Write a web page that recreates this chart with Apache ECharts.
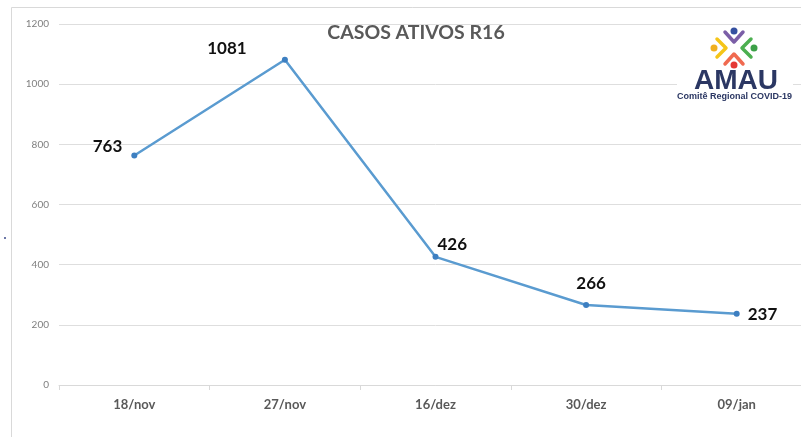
<!DOCTYPE html>
<html><head><meta charset="utf-8">
<script src="https://cdn.jsdelivr.net/npm/echarts@6/dist/echarts.min.js"></script>
<style>html,body{margin:0;padding:0;background:#fff;overflow:hidden;width:801px;height:437px}#c{width:812px;height:437px}</style>
</head><body><div id="c"></div>
<script>
const categories = ['18/nov','27/nov','16/dez','30/dez','09/jan'];
const values = [763, 1081, 426, 266, 237];
const yTicks = [0, 200, 400, 600, 800, 1000, 1200];
const title = 'CASOS ATIVOS R16';

const labelPos = [
  {position:'left', offset:[-4,-9]},
  {position:'top', offset:[-58,5]},
  {position:'right', offset:[-6,-12]},
  {position:'top', offset:[5,-5]},
  {position:'right', offset:[3,1]}
];
const chart = echarts.init(document.getElementById('c'));
chart.setOption({
  animation:false,
  backgroundColor:'#fff',
  title:{text:title,left:411,top:18,textAlign:'center',
    textStyle:{fontFamily:'Lato',fontWeight:'bold',fontSize:19.5,color:'#595959'}},
  grid:{left:59,top:24,bottom:52,right:0},
  xAxis:{type:'category',data:categories,boundaryGap:true,
    axisLine:{lineStyle:{color:'#d9d9d9',width:1}},
    axisTick:{show:true,length:5,lineStyle:{color:'#d9d9d9'}},
    axisLabel:{margin:13,fontFamily:'Lato',fontWeight:'bold',fontSize:13,color:'#595959'}},
  yAxis:{type:'value',min:yTicks[0],max:yTicks[yTicks.length-1],interval:200,
    axisLine:{show:false},axisTick:{show:false},
    axisLabel:{margin:10,fontFamily:'Lato',fontSize:10,color:'#7f7f7f',formatter:v=>String(v)},
    splitLine:{lineStyle:{color:'#dedede',width:1}}},
  series:[{type:'line',
    data:values.map((v,i)=>({value:v,label:labelPos[i]})),
    symbol:'circle',symbolSize:6,
    lineStyle:{color:'#5a9bd0',width:2.5},
    itemStyle:{color:'#3d7fc1'},
    label:{show:true,fontFamily:'Lato',fontWeight:'bold',fontSize:17,color:'#111'},
    z:3}],
  graphic:[
    {type:'rect',shape:{x:11.5,y:7.5,width:820,height:440},style:{fill:null,stroke:'#d9d9d9',lineWidth:1},z:-1},
    {type:'rect',shape:{x:677,y:26,width:116,height:82},style:{fill:'#fff'},z:10},
    // icon: top (purple V, blue head)
    {type:'polyline',shape:{points:[[725,32],[734,42],[743,32]]},style:{stroke:'#7b5ea7',lineWidth:3.5,lineCap:'round',lineJoin:'round',fill:null},z:11},
    {type:'circle',shape:{cx:734,cy:31,r:3.5},style:{fill:'#3550a0'},z:11},
    // left (yellow)
    {type:'polyline',shape:{points:[[717,39],[726,48],[717,57]]},style:{stroke:'#f5c518',lineWidth:3.5,lineCap:'round',lineJoin:'round',fill:null},z:11},
    {type:'circle',shape:{cx:714,cy:48,r:3.5},style:{fill:'#f0b020'},z:11},
    // right (green)
    {type:'polyline',shape:{points:[[751,39],[742,48],[751,57]]},style:{stroke:'#4caf50',lineWidth:3.5,lineCap:'round',lineJoin:'round',fill:null},z:11},
    {type:'circle',shape:{cx:754,cy:48,r:3.5},style:{fill:'#3ca048'},z:11},
    // bottom (red)
    {type:'polyline',shape:{points:[[725,64],[734,54],[743,64]]},style:{stroke:'#f06a50',lineWidth:3.5,lineCap:'round',lineJoin:'round',fill:null},z:11},
    {type:'circle',shape:{cx:734,cy:65,r:3.5},style:{fill:'#e53935'},z:11},
    {type:'text',left:694,top:67,style:{text:'AMAU',font:'bold 28px "Liberation Sans"',fill:'#2b3763'},z:11},
    {type:'text',left:677,top:92,style:{text:'Comitê Regional COVID-19',font:'bold 9px "Liberation Sans"',fill:'#2b3763'},z:11},
    {type:'circle',shape:{cx:5,cy:238,r:1},style:{fill:'#3b4a8a'},z:11}
  ]
});
</script></body></html>
